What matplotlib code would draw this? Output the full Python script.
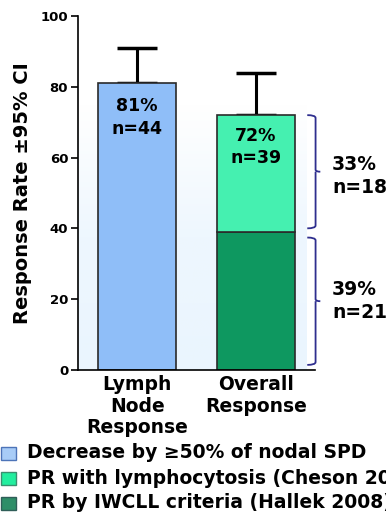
import numpy as np
import matplotlib
matplotlib.use("Agg")
from matplotlib import pyplot as plt
from matplotlib.patches import Rectangle
from matplotlib.path import Path
from matplotlib.patches import PathPatch

plt.rcParams['font.family'] = ['DejaVu Sans']
plt.rcParams['font.weight'] = 'bold'

# response rates (%) with upper 95% CI
categories = ["Lymph\nNode\nResponse", "Overall\nResponse"]
lymph_node_rate = 81
lymph_node_ci_upper = 91
iwcll_pr_rate = 39
lymphocytosis_pr_rate = 33
overall_ci_upper = 84
bar_labels = ["81%\nn=44", "72%\nn=39"]
brace_labels = ["33%\nn=18", "39%\nn=21"]
legend_labels = ["Decrease by \u226550% of nodal SPD",
                 "PR with lymphocytosis (Cheson 2012)",
                 "PR by IWCLL criteria (Hallek 2008)"]
y_ticks = [0, 20, 40, 60, 80, 100]

LIGHT_BLUE = "#8FBEF8"
LIGHT_GREEN = "#45F0B0"
DARK_GREEN = "#0E9860"
EDGE = "#2a2a2a"
NAVY = "#2E2E8E"

fig = plt.figure(figsize=(3.86, 5.18), dpi=100)
ax = fig.add_axes([0.202, 0.286, 0.614, 0.683])
ax.set_xlim(-0.5, 1.5)
ax.set_ylim(0, 100)

# soft blue panel behind the bars
grad = np.linspace(0, 1, 256).reshape(-1, 1)
cmap = matplotlib.colors.LinearSegmentedColormap.from_list(
    "panel", ["#EAF5FE", "#EEF7FE", "#FFFFFF"])
ax.imshow(grad, extent=(-0.5, 1.43, 0, 75), origin="lower", cmap=cmap,
          aspect="auto", zorder=0)

x = np.arange(len(categories))
width = 0.655
overall_rate = iwcll_pr_rate + lymphocytosis_pr_rate

ax.bar(x[0], lymph_node_rate, width, color=LIGHT_BLUE, edgecolor=EDGE,
       linewidth=1.2, zorder=2)
ax.bar(x[1], iwcll_pr_rate, width, color=DARK_GREEN, edgecolor=EDGE,
       linewidth=1.2, zorder=2)
ax.bar(x[1], lymphocytosis_pr_rate, width, bottom=iwcll_pr_rate,
       color=LIGHT_GREEN, edgecolor=EDGE, linewidth=1.2, zorder=2)

# upper half of the 95% CI
tops = [lymph_node_rate, overall_rate]
uppers = [lymph_node_ci_upper, overall_ci_upper]
for xi, top, up in zip(x, tops, uppers):
    ax.errorbar(xi, top, yerr=[[0], [up - top]], fmt="none", ecolor="black",
                elinewidth=2.2, capsize=14.5, capthick=2.5, zorder=1)

label_offsets = [4.0, 3.3]
for xi, top, off, lab in zip(x, tops, label_offsets, bar_labels):
    ax.text(xi, top - off, lab, ha="center", va="top", fontsize=12.5,
            fontweight="bold", linespacing=1.3, zorder=3)


def brace(ax, y0, y1, xb=1.505, hook=0.07, tip=0.04):
    mid = (y0 + y1) / 2
    verts = [(xb - hook, y1), (xb, y1), (xb, y1 - 0.8),
             (xb, mid + 0.6), (xb, mid), (xb + tip, mid),
             (xb, mid), (xb, mid - 0.6),
             (xb, y0 + 0.8), (xb, y0), (xb - hook, y0)]
    codes = [Path.MOVETO, Path.CURVE3, Path.CURVE3,
             Path.LINETO, Path.CURVE3, Path.CURVE3,
             Path.MOVETO, Path.LINETO,
             Path.LINETO, Path.CURVE3, Path.CURVE3]
    ax.add_patch(PathPatch(Path(verts, codes), facecolor="none",
                           edgecolor=NAVY, linewidth=1.3, clip_on=False))
    return mid


segments = [(40, overall_rate), (1.4, 37.4)]
text_shift = [-1.2, 0.0]
for (y0, y1), dy, lab in zip(segments, text_shift, brace_labels):
    mid = brace(ax, y0, y1)
    ax.text(1.645, mid + dy, lab, ha="left", va="center", fontsize=13.5,
            fontweight="bold", linespacing=1.3, clip_on=False)

ax.set_xticks(x)
ax.set_xticklabels(categories, fontsize=13.5, fontweight="bold",
                   linespacing=1.15)
ax.tick_params(axis="x", length=0, pad=4)
ax.set_yticks(y_ticks)
ax.set_yticklabels([str(t) for t in y_ticks], fontsize=9.5, fontweight="bold")
ax.tick_params(axis="y", length=5, width=1.2, pad=2)
ax.set_ylabel("Response Rate \u00b195% CI", fontsize=14, fontweight="bold")
ax.yaxis.set_label_coords(-0.195, 0.5)
for side in ("top", "right"):
    ax.spines[side].set_visible(False)
for side in ("left", "bottom"):
    ax.spines[side].set_linewidth(1.2)

# legend drawn by hand at the foot of the figure
legend_colors = ["#A8CCF7", "#22EE9E", "#2E8E68"]
legend_edges = ["#4D74B8", "#3A8F70", "#2F5E58"]
W, H = 386, 518
for i, (lab, fc, ec) in enumerate(zip(legend_labels, legend_colors, legend_edges)):
    cy = 453 + i * 25
    fig.patches.append(Rectangle((1 / W, 1 - (cy + 6.5) / H), 15 / W, 13 / H,
                                 transform=fig.transFigure, facecolor=fc,
                                 edgecolor=ec, linewidth=1.0))
    fig.text(27 / W, 1 - cy / H, lab, ha="left", va="center", fontsize=13.5,
             fontweight="bold")

fig.savefig("out.png", dpi=100)
